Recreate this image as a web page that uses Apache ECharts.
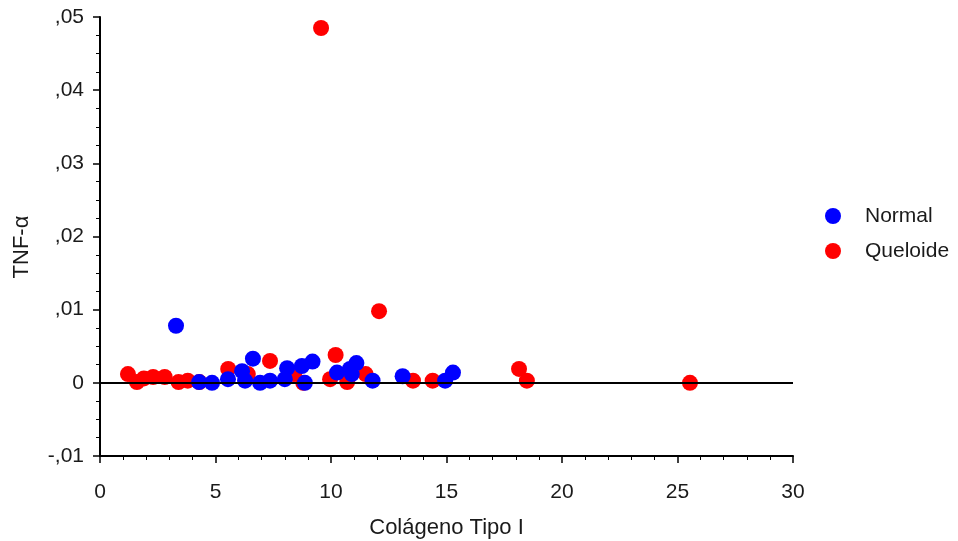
<!DOCTYPE html>
<html>
<head>
<meta charset="utf-8">
<script src="https://cdn.jsdelivr.net/npm/echarts@6/dist/echarts.min.js"></script>
<style>html,body{margin:0;padding:0;background:#fff}#c{width:958px;height:541px}</style>
</head>
<body>
<div id="c"></div>
<script>
// Normal series [Colágeno Tipo I, TNF-α]
var normalX = [3.29, 4.29, 4.85, 5.54, 6.15, 6.62, 6.28, 6.93, 7.36, 8.1, 8.0, 8.74, 9.2, 8.87, 10.26, 10.82, 11.1, 10.9, 11.8, 13.1, 14.94, 15.28];
var normalY = [0.0078, 0.0001, 0.0000, 0.0005, 0.0016, 0.0033, 0.0003, 0.0000, 0.0003, 0.0020, 0.0005, 0.0023, 0.0029, 0.0000, 0.0014, 0.0019, 0.0027, 0.0012, 0.0003, 0.0009, 0.0003, 0.0014];
// Queloide series
var queloideX = [1.21, 1.6, 1.9, 2.3, 2.8, 3.4, 3.8, 4.3, 5.55, 6.4, 7.36, 8.4, 8.8, 10.2, 9.96, 10.7, 11.5, 13.55, 14.4, 12.08, 9.57, 18.14, 18.48, 25.54];
var queloideY = [0.0012, 0.0001, 0.0006, 0.0008, 0.0008, 0.0001, 0.0003, 0.0001, 0.0019, 0.0012, 0.0030, 0.0012, 0.0000, 0.0038, 0.0005, 0.0001, 0.0012, 0.0003, 0.0003, 0.0098, 0.0485, 0.0019, 0.0003, 0.0000];
var xTicks = {min: 0, max: 30, interval: 5};
var yTicks = {min: -0.01, max: 0.05, interval: 0.01};
var seriesNames = ['Normal', 'Queloide'];

function pairs(xs, ys) { return xs.map(function (x, i) { return [x, ys[i]]; }); }
function fmtY(v) {
  var r = Math.round(v * 100) / 100;
  if (r === 0) return '0';
  var s = Math.abs(r).toFixed(2).replace(/^0\./, ',');
  return (r < 0 ? '-' : '') + s;
}
var font = 'Liberation Sans, Arial, sans-serif';
var txt = '#1a1a1a';
var chart = echarts.init(document.getElementById('c'), null, {renderer: 'canvas'});
chart.setOption({
  animation: false,
  backgroundColor: '#ffffff',
  grid: {left: 100, right: 165, top: 17, bottom: 85, containLabel: false, outerBoundsMode: 'none'},
  legend: {
    data: seriesNames,
    orient: 'vertical',
    left: 820, top: 200,
    itemWidth: 16, itemHeight: 16, itemGap: 13,
    icon: 'circle',
    textStyle: {fontFamily: font, fontSize: 21, lineHeight: 22, color: txt, padding: [0, 0, 0, 19]}
  },
  xAxis: {
    type: 'value', min: xTicks.min, max: xTicks.max, interval: xTicks.interval,
    name: 'Colágeno Tipo I', nameLocation: 'middle', nameGap: 61,
    nameTextStyle: {fontFamily: font, fontSize: 22, color: txt},
    axisLine: {show: true, onZero: false, lineStyle: {color: '#000', width: 2}},
    axisTick: {show: true, length: 7, lineStyle: {color: '#000', width: 1.5}},
    minorTick: {show: true, splitNumber: 5, length: 4, lineStyle: {color: '#000', width: 1}},
    axisLabel: {fontFamily: font, fontSize: 21, color: txt, margin: 26},
    splitLine: {show: false}
  },
  yAxis: {
    type: 'value', min: yTicks.min, max: yTicks.max, interval: yTicks.interval,
    axisLine: {show: true, onZero: false, lineStyle: {color: '#000', width: 2}},
    axisTick: {show: true, length: 7, lineStyle: {color: '#000', width: 1.5}},
    minorTick: {show: true, splitNumber: 4, length: 4, lineStyle: {color: '#000', width: 1}},
    axisLabel: {fontFamily: font, fontSize: 21, color: txt, margin: 16, formatter: fmtY},
    splitLine: {show: false}
  },
  graphic: [{
    type: 'text', rotation: Math.PI / 2, x: 22, y: 247,
    style: {text: 'TNF-α', fontFamily: font, fontSize: 22, fill: txt, align: 'center', verticalAlign: 'middle'}
  }],
  series: [{
    name: 'Queloide', type: 'scatter', symbolSize: 16,
    itemStyle: {color: '#ff0000', opacity: 1},
    data: pairs(queloideX, queloideY),
    markLine: {
      silent: true, symbol: 'none', label: {show: false},
      lineStyle: {color: '#000', width: 2, type: 'solid'},
      data: [{yAxis: 0}]
    },
    z: 2
  }, {
    name: 'Normal', type: 'scatter', symbolSize: 16,
    itemStyle: {color: '#0000ff', opacity: 1},
    data: pairs(normalX, normalY),
    z: 3
  }]
});
</script>
</body>
</html>
